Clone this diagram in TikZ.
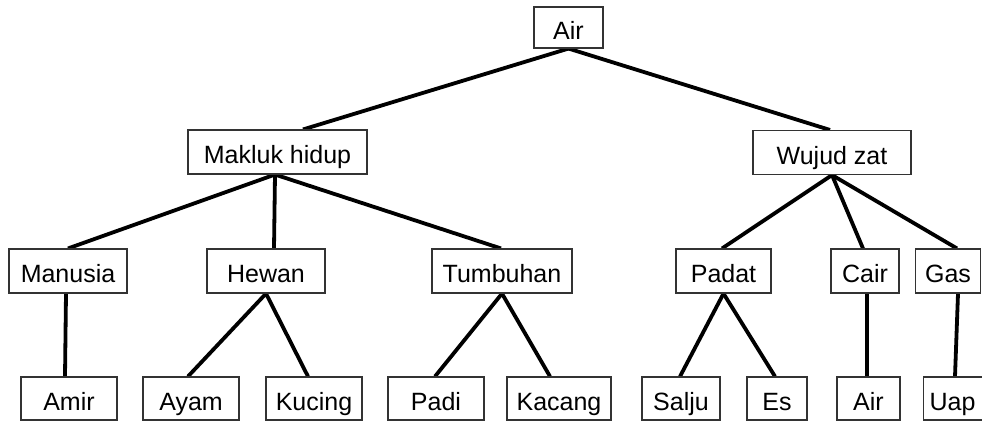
\documentclass[tikz,border=0pt]{standalone}
\usepackage{fontspec}
\setmainfont{Liberation Sans}
\usetikzlibrary{calc,backgrounds}
\begin{document}
\begin{tikzpicture}[x=1pt,y=-1pt,
  box/.style={draw=black!80, line width=1.1pt, fill=white, rectangle, inner sep=0pt,
    text height=25pt, text depth=2pt, font=\fontsize{25}{30}\selectfont},
  lvlA/.style={box, minimum height=41pt},
  lvlB/.style={box, minimum height=44pt},
  lvlC/.style={box, minimum height=43pt},
  conn/.style={line width=3.8pt, black}]
\useasboundingbox (0,0) rectangle (982,421);
\clip (0,0) rectangle (982,421);
% level 0
\node[lvlA, minimum width=69pt] (air) at (568.5,27.5) {Air};
% level 1
\node[lvlB, minimum width=179pt] (mh) at (277.5,152) {Makluk hidup};
\node[lvlB, minimum width=158pt] (wz) at (832,152.5) {Wujud zat};
% level 2
\node[lvlB, minimum width=118pt] (man) at (68,271) {Manusia};
\node[lvlB, minimum width=118pt] (hew) at (266,271) {Hewan};
\node[lvlB, minimum width=140pt] (tum) at (502,271) {Tumbuhan};
\node[lvlB, minimum width=95pt] (pad) at (723.5,271) {Padat};
\node[lvlB, minimum width=68pt] (cair) at (865,271) {Cair};
\node[lvlB, minimum width=65pt] (gas) at (948,271) {Gas};
% level 3
\node[lvlC, minimum width=96pt] (amir) at (69,398.5) {Amir};
\node[lvlC, minimum width=96pt] (ayam) at (191,398.5) {Ayam};
\node[lvlC, minimum width=96pt] (kuc) at (314,398.5) {Kucing};
\node[lvlC, minimum width=96pt] (padi) at (436,398.5) {Padi};
\node[lvlC, minimum width=104pt] (kac) at (559,398.5) {Kacang};
\node[lvlC, minimum width=78pt] (sal) at (681,398.5) {Salju};
\node[lvlC, minimum width=60pt] (es) at (777,398.5) {Es};
\node[lvlC, minimum width=63pt] (air2) at (868.5,398.5) {Air};
\node[lvlC, anchor=west, text width=66pt, inner xsep=6pt, align=left] (uap) at (923,398.5) {Uap};
% connectors
\begin{scope}[on background layer]
\fill[white] (0,0) rectangle (982,421);
\draw[conn] (air.south) -- ($(mh.north)+(25.5,0)$);
\draw[conn] (air.south) -- ($(wz.north)+(-2,0)$);
\draw[conn] ($(mh.south)+(-2.5,0)$) -- (man.north);
\draw[conn] ($(mh.south)+(-2.5,0)$) -- ($(hew.north)+(8,0)$);
\draw[conn] ($(mh.south)+(-2.5,0)$) -- ($(tum.north)+(-1,0)$);
\draw[conn] ($(man.south)+(-2,0)$) -- ($(amir.north)+(-4,0)$);
\draw[conn] (hew.south) -- ($(ayam.north)+(-3,0)$);
\draw[conn] (hew.south) -- ($(kuc.north)+(-6,0)$);
\draw[conn] (tum.south) -- ($(padi.north)+(-1,0)$);
\draw[conn] (tum.south) -- ($(kac.north)+(-9,0)$);
\draw[conn] (wz.south) -- ($(pad.north)+(-1.5,0)$);
\draw[conn] (wz.south) -- ($(cair.north)+(-2,0)$);
\draw[conn] (wz.south) -- ($(gas.north)+(9,0)$);
\draw[conn] (pad.south) -- ($(sal.north)+(-1,0)$);
\draw[conn] (pad.south) -- ($(es.north)+(-2,0)$);
\draw[conn] ($(cair.south)+(2,0)$) -- ($(air2.north)+(-1.5,0)$);
\draw[conn] ($(gas.south)+(10,0)$) -- ($(uap.north west)+(32,0)$);
\end{scope}
\end{tikzpicture}
\end{document}
